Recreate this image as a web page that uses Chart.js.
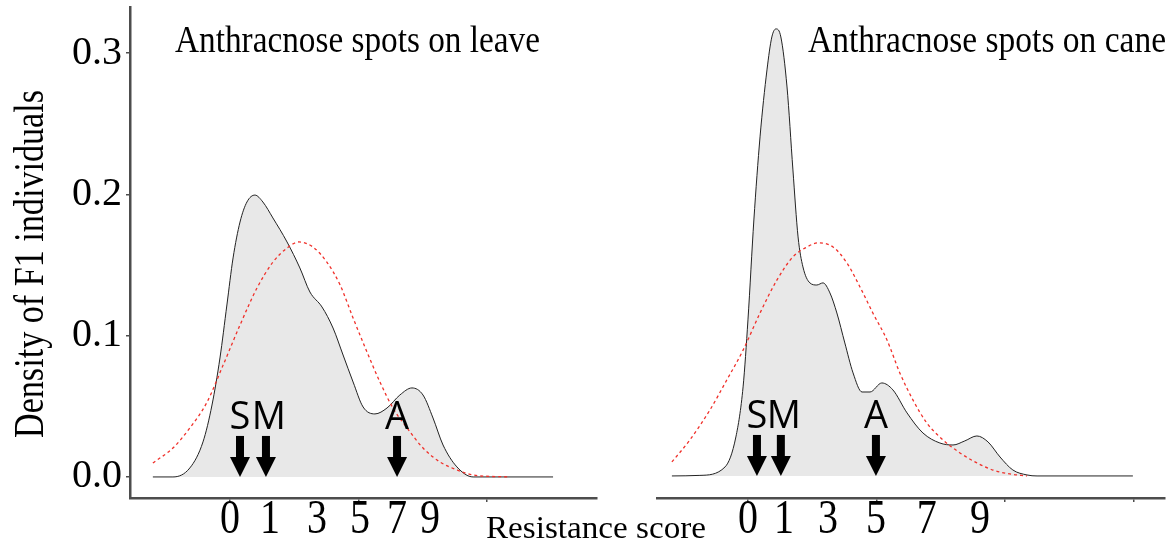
<!DOCTYPE html>
<html>
<head>
<meta charset="utf-8">
<title>Anthracnose resistance density</title>
<script src="https://cdn.jsdelivr.net/npm/chart.js@4.4.0/dist/chart.umd.min.js"></script>
<style>
  html, body { margin: 0; padding: 0; background: #fff; }
  #wrap { position: relative; width: 1175px; height: 544px; }
  #wrap canvas { position: absolute; left: 0; top: 0; width: 1175px; height: 544px; }
</style>
</head>
<body>
<div id="wrap">
  <canvas id="leaf-chart" width="1175" height="544"></canvas>
  <canvas id="cane-chart" width="1175" height="544"></canvas>
</div>
<script>
// --- leaf panel: kernel density of scores and fitted normal ---
const leafX = [-3.00, -2.22, -1.56, -1.05, -0.70, -0.39, -0.12, 0.12, 0.39, 0.66, 0.97, 1.28, 1.67, 2.22,
  2.72, 3.11, 3.58, 4.01, 4.40, 4.79, 5.18, 5.64, 6.11, 6.61, 7.08, 7.51, 7.90, 8.29, 8.83, 9.46, 9.84, 12.57];
const leafDensity = [0, 0, 0.0064, 0.0248, 0.0509, 0.0842, 0.1217, 0.155, 0.1804, 0.1946, 0.1995, 0.1946, 0.1833, 0.1663,
  0.1479, 0.1309, 0.1203, 0.1054, 0.0863, 0.0672, 0.0495, 0.0446, 0.0488, 0.058, 0.063, 0.058, 0.0417, 0.0226, 0.0071, 0, 0, 0];
const leafNormX = [-3.00, -2.22, -1.56, -0.89, -0.27, 0.39, 1.05, 1.67, 2.22, 2.68, 3.23, 3.77, 4.28, 4.79,
  5.33, 5.84, 6.34, 6.89, 7.51, 8.17, 8.83, 9.46, 10.89];
const leafNormal = [0.0099, 0.0205, 0.0347, 0.053, 0.079, 0.1075, 0.1337, 0.152, 0.162, 0.1663, 0.1627, 0.152, 0.136, 0.1125,
  0.0884, 0.067, 0.0488, 0.0347, 0.0205, 0.0106, 0.005, 0.0014, 0];

// --- cane panel ---
const caneX = [-2.96, -1.87, -0.89, -0.47, -0.19, 0.00, 0.23, 0.47, 0.74, 0.93, 1.09, 1.28, 1.52, 1.75, 1.95, 2.14,
  2.41, 2.68, 2.92, 3.19, 3.46, 3.77, 4.09, 4.44, 4.75, 5.21, 5.64, 6.19, 6.81, 7.47, 7.98, 8.44, 8.91, 9.34,
  9.81, 10.31, 10.86, 11.25, 14.98];
const caneDensity = [0, 0.0004, 0.0064, 0.0276, 0.063, 0.1104, 0.1811, 0.2399, 0.2873, 0.3106, 0.3163, 0.3106, 0.2752, 0.2165, 0.1691, 0.1479,
  0.1366, 0.1351, 0.1366, 0.1295, 0.1153, 0.0941, 0.0729, 0.0594, 0.0594, 0.0658, 0.0609, 0.0446, 0.0304, 0.0233, 0.0219, 0.0248, 0.0283, 0.0241,
  0.0134, 0.0042, 0.0007, 0, 0];
const caneNormX = [-2.96, -2.26, -1.48, -0.82, -0.19, 0.47, 1.13, 1.75, 2.30, 2.72, 3.31, 3.85, 4.36, 4.86,
  5.41, 5.91, 6.42, 6.96, 7.59, 8.25, 8.91, 9.53, 10.19, 10.86];
const caneNormal = [0.0099, 0.0255, 0.0467, 0.068, 0.089, 0.1153, 0.1387, 0.155, 0.162, 0.1649, 0.162, 0.1507, 0.1337, 0.1153,
  0.0962, 0.0729, 0.0538, 0.0375, 0.0255, 0.0163, 0.0092, 0.0042, 0.0014, 0];

// score labels printed under each axis, and where they sit on the axis
const scoreLabels = ['0', '1', '3', '5', '7', '9'];
const leafLabelPos = [0, 1.56, 3.39, 5.06, 6.5, 7.78];
const caneLabelPos = [0, 1.40, 3.11, 4.98, 6.96, 9.03];

// parent markers (S, M, A) as arrows
const parentNames = ['S', 'M', 'A'];
const leafParents = [0.39, 1.40, 6.5];
const caneParents = [0.35, 1.28, 4.98];

const yTicks = [0, 0.1, 0.2, 0.3];

const SERIF = "'Liberation Serif', 'Times New Roman', serif";
const SANS = "'Open Sans', 'DejaVu Sans', sans-serif";

// draws text, optionally squeezed/stretched to a given length
function drawText(ctx, text, x, y, o) {
    ctx.save();
    ctx.font = `${o.size}px ${o.family}`;
    ctx.fillStyle = '#000';
    ctx.textBaseline = 'alphabetic';
    ctx.textAlign = o.align || 'left';
    ctx.translate(x, y);
    if (o.rotate) ctx.rotate(o.rotate);
    const sx = o.width ? o.width / ctx.measureText(text).width : 1;
    ctx.scale(sx, o.sy || 1);
    ctx.fillText(text, 0, 0);
    ctx.restore();
}

function drawArrow(ctx, x, tipY) {
    ctx.save();
    ctx.fillStyle = '#000';
    ctx.fillRect(x - 4, tipY - 41, 8, 22);
    ctx.beginPath();
    ctx.moveTo(x - 10, tipY - 20);
    ctx.lineTo(x + 10, tipY - 20);
    ctx.lineTo(x, tipY);
    ctx.closePath();
    ctx.fill();
    ctx.restore();
}

const overlay = (cfg) => ({
    id: 'overlay',
    afterDraw(chart) {
        const ctx = chart.ctx;
        const xs = chart.scales.x;
        const ys = chart.scales.y;

        drawText(ctx, cfg.title, cfg.titleX, 52, { size: 37, family: SERIF, width: cfg.titleW });

        cfg.labelPos.forEach((v, i) => {
            drawText(ctx, scoreLabels[i], xs.getPixelForValue(v), 533, { size: 40, family: SERIF, align: 'center', sy: 1.22 });
        });

        const tipY = ys.getPixelForValue(0);
        cfg.parents.forEach((v, i) => {
            const px = xs.getPixelForValue(v);
            drawArrow(ctx, px, tipY);
            const shift = parentNames[i] === 'M' ? 3 : 0;
            drawText(ctx, parentNames[i], px + shift, tipY - 48, { size: 38, family: SANS, align: 'center' });
        });

        if (cfg.axisTitles) {
            drawText(ctx, 'Density of F1 individuals', 43, 438, { size: 42, family: SERIF, rotate: -Math.PI / 2, width: 348 });
            drawText(ctx, 'Resistance score', 486, 538, { size: 32, family: SERIF, width: 220 });
        }
    }
});

const makeChart = (id, c) => {
    const axisColor = '#4d4d4d';
    return new Chart(document.getElementById(id).getContext('2d'), {
        type: 'line',
        data: {
            datasets: [
                {
                    data: c.normX.map((x, i) => ({ x, y: c.normal[i] })),
                    borderColor: '#f0302a',
                    borderWidth: 1.3,
                    borderDash: [3, 3],
                    fill: false,
                    pointRadius: 0,
                    cubicInterpolationMode: 'monotone'
                },
                {
                    data: c.x.map((x, i) => ({ x, y: c.density[i] })),
                    borderColor: '#222',
                    borderWidth: 1,
                    backgroundColor: '#e8e8e8',
                    fill: 'origin',
                    pointRadius: 0,
                    cubicInterpolationMode: 'monotone'
                }
            ]
        },
        options: {
            responsive: false,
            animation: false,
            events: [],
            layout: { padding: c.padding },
            plugins: { legend: { display: false }, tooltip: { enabled: false } },
            scales: {
                x: {
                    type: 'linear',
                    min: c.xMin,
                    max: c.xMax,
                    border: { display: true, color: axisColor, width: 2.5 },
                    grid: { display: true, drawOnChartArea: false, drawTicks: true, tickLength: 4, color: axisColor, lineWidth: 1.5 },
                    ticks: { stepSize: 5, includeBounds: false, autoSkip: false, maxRotation: 0, callback: () => '' },
                    afterFit: (s) => { s.height = 46; s.paddingLeft = 0; s.paddingRight = 0; }
                },
                y: {
                    display: c.showY,
                    min: c.yMin,
                    max: c.yMax,
                    border: { display: true, color: axisColor, width: 2.5 },
                    grid: { display: true, drawOnChartArea: false, drawTicks: true, tickLength: 4, color: axisColor, lineWidth: 1.5 },
                    afterBuildTicks: (s) => { s.ticks = yTicks.map(v => ({ value: v })); },
                    ticks: {
                        color: '#000',
                        padding: 4,
                        font: { family: SERIF, size: 40 },
                        callback: (v) => Number(v).toFixed(1)
                    },
                    afterFit: (s) => { s.width = c.showY ? 130 : 0; s.paddingTop = 0; s.paddingBottom = 0; }
                }
            }
        },
        plugins: [overlay(c)]
    });
};

makeChart('leaf-chart', {
    x: leafX, density: leafDensity, normX: leafNormX, normal: leafNormal,
    xMin: -3.89, xMax: 14.28, yMin: -0.0149, yMax: 0.3326, showY: true,
    padding: { left: 0, right: 578, top: 7, bottom: 0 },
    title: 'Anthracnose spots on leave', titleX: 175, titleW: 365,
    labelPos: leafLabelPos, parents: leafParents, axisTitles: true
});

makeChart('cane-chart', {
    x: caneX, density: caneDensity, normX: caneNormX, normal: caneNormal,
    xMin: -3.54, xMax: 16.23, yMin: -0.0156, yMax: 0.3318, showY: false,
    padding: { left: 657, right: 10, top: 7, bottom: 0 },
    title: 'Anthracnose spots on cane', titleX: 808, titleW: 358,
    labelPos: caneLabelPos, parents: caneParents, axisTitles: false
});
</script>
</body>
</html>
